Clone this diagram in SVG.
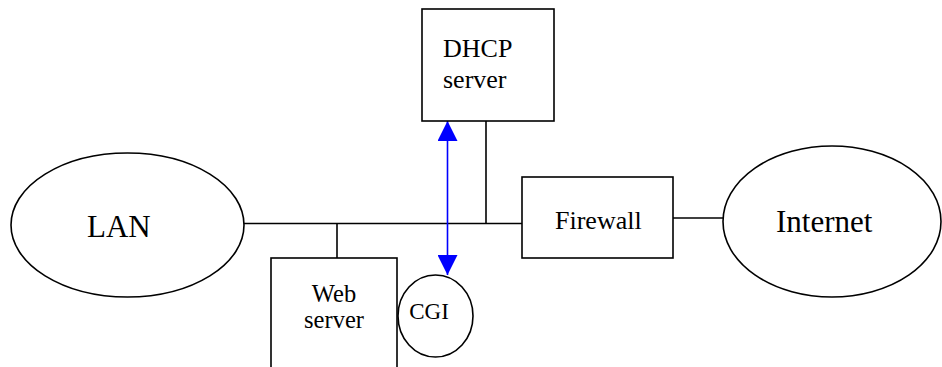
<svg xmlns="http://www.w3.org/2000/svg" width="942" height="367" viewBox="0 0 942 367">
<style>
.s{fill:#fff;stroke:#000;stroke-width:1.6}
.l{stroke:#000;stroke-width:1.6;fill:none}
.t{font-family:"Liberation Serif","Times New Roman",serif;fill:#000}
</style>
<defs>
<marker id="ah" viewBox="0 0 20 20" refX="20" refY="10" markerWidth="20" markerHeight="20" markerUnits="userSpaceOnUse" orient="auto-start-reverse">
<path d="M0,0 L20,10 L0,20 Z" fill="#0000ff"/>
</marker>
</defs>
<rect width="942" height="367" fill="#fff"/>
<g id="connectors">
<line class="l" x1="244" y1="223.5" x2="522" y2="223.5"/>
<line class="l" x1="486" y1="121" x2="486" y2="223.5"/>
<line class="l" x1="337" y1="223.5" x2="337" y2="258"/>
<line class="l" x1="673" y1="218" x2="723" y2="218"/>
<line x1="447.5" y1="121" x2="447.5" y2="275" stroke="#0000ff" stroke-width="1.6" marker-start="url(#ah)" marker-end="url(#ah)"/>
</g>
<g id="lan">
<ellipse class="s" cx="127.5" cy="225" rx="116.5" ry="72"/>
<text class="t" x="87" y="237" font-size="31">LAN</text>
</g>
<g id="dhcp">
<rect class="s" x="422" y="9" width="132" height="112"/>
<text class="t" x="443" y="57" font-size="26">DHCP</text>
<text class="t" x="443" y="88" font-size="26">server</text>
</g>
<g id="firewall">
<rect class="s" x="522" y="177" width="151" height="81"/>
<text class="t" x="555" y="229" font-size="26">Firewall</text>
</g>
<g id="internet">
<ellipse class="s" cx="832" cy="221.5" rx="109" ry="75.5"/>
<text class="t" x="776" y="232" font-size="31">Internet</text>
</g>
<g id="webserver">
<rect class="s" x="271" y="258" width="126" height="120"/>
<text class="t" x="334" y="302" font-size="24.5" text-anchor="middle">Web</text>
<text class="t" x="334" y="328" font-size="24.5" text-anchor="middle">server</text>
</g>
<g id="cgi">
<ellipse class="s" cx="435.5" cy="316" rx="37.5" ry="41"/>
<text class="t" x="429" y="319" font-size="23" text-anchor="middle">CGI</text>
</g>
</svg>
